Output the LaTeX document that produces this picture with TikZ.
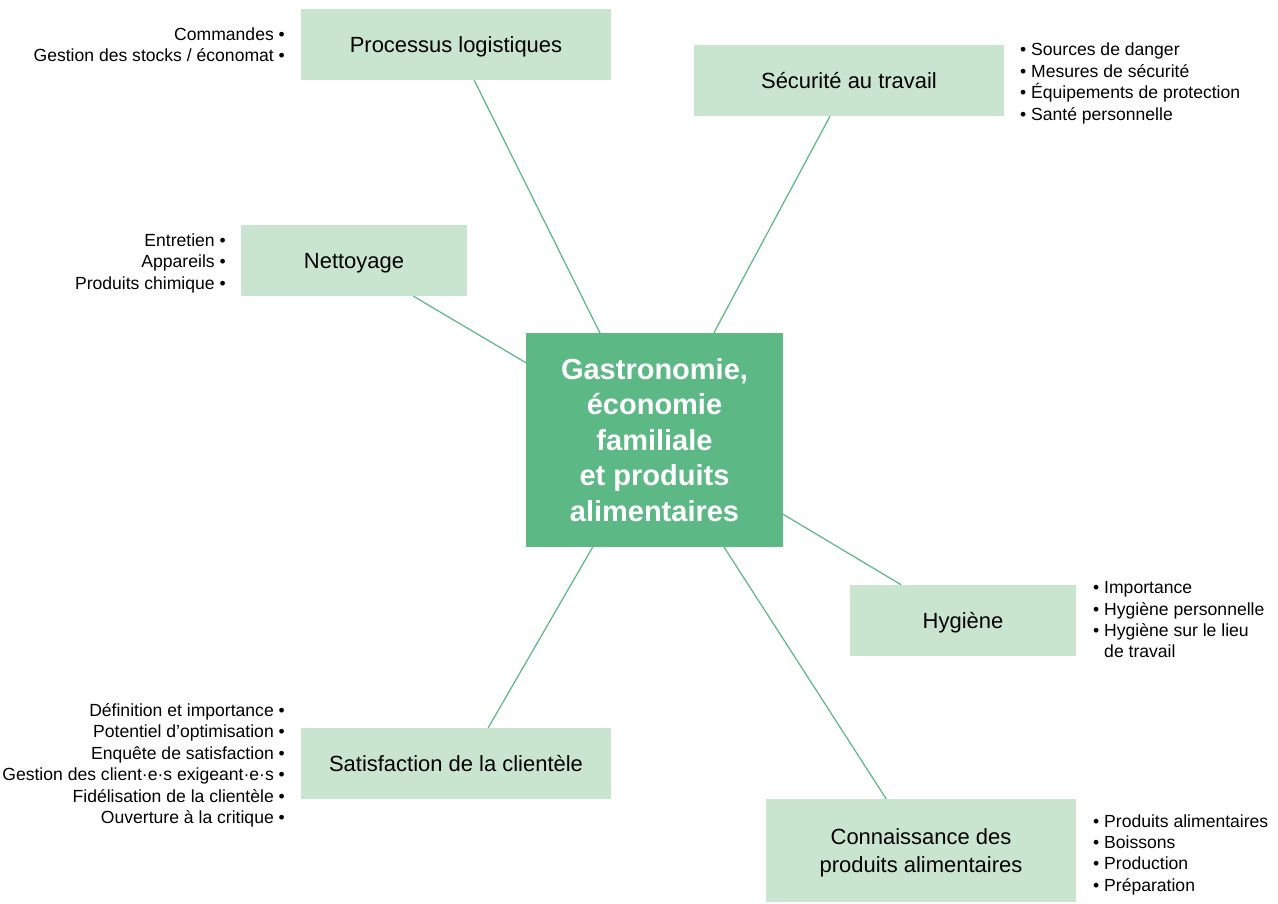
\documentclass[tikz,border=0pt]{standalone}
\usepackage{fontspec}
\setmainfont{Liberation Sans}
\usepackage{tikz}
\usetikzlibrary{positioning}
\usepackage{xcolor}

\definecolor{boxgreen}{HTML}{C9E4CF}
\definecolor{maingreen}{HTML}{5CB985}

\tikzset{
    topic/.style={fill=boxgreen, inner sep=0pt, outer sep=0pt, align=center, text depth=0pt,
        minimum height=1.43cm, font=\fontsize{12.5}{16}\selectfont},
    hub/.style={fill=maingreen, text=white, inner sep=0pt, outer sep=0pt, align=center,
        minimum width=5.14cm, minimum height=4.28cm, font=\fontsize{16.5}{20.2}\selectfont\bfseries},
    points/.style={inner sep=0pt, text depth=0pt, font=\fontsize{10}{12.2}\selectfont},
    link/.style={draw=maingreen, line width=0.7pt}
}

\begin{document}
\begin{tikzpicture}[x=0.02cm, y=-0.02cm]
    \useasboundingbox (0,0) rectangle (1278,903);

    \node (hub) [hub] at (654.5,440) {Gastronomie,\\économie\\familiale\\et produits\\alimentaires};

    \node (logistique) [topic, minimum width=6.2cm] at (456,44.5) {Processus logistiques};
    \node (securite) [topic, minimum width=6.2cm] at (849,80.5) {Sécurité au travail};
    \node (nettoyage) [topic, minimum width=4.52cm] at (354,260.5) {Nettoyage};
    \node (hygiene) [topic, minimum width=4.52cm] at (963,620.5) {Hygiène};
    \node (satisfaction) [topic, minimum width=6.2cm] at (456,763.5) {Satisfaction de la clientèle};
    \node (connaissance) [topic, minimum width=6.2cm, minimum height=2.06cm] at (921,850.5) {Connaissance des\\produits alimentaires};

    % lists
    \node (logistique_pts) [points, align=right, left=9pt of logistique] {Commandes •\\Gestion des stocks / économat •};
    \node (securite_pts) [points, align=left, right=9pt of securite, yshift=-0.6pt] {• Sources de danger\\• Mesures de sécurité\\• Équipements de protection\\• Santé personnelle};
    \node (nettoyage_pts) [points, align=right, left=8.5pt of nettoyage, yshift=-0.5pt] {Entretien •\\Appareils •\\Produits chimique •};
    \node (hygiene_pts) [points, align=left, anchor=north west] at ([shift={(9.6pt,2pt)}]hygiene.north east) {• Importance\\• Hygiène personnelle\\• Hygiène sur le lieu\\\phantom{• }de travail};
    \node (satisfaction_pts) [points, align=right, left=9pt of satisfaction] {Définition et importance •\\Potentiel d’optimisation •\\Enquête de satisfaction •\\Gestion des client·e·s exigeant·e·s •\\Fidélisation de la clientèle •\\Ouverture à la critique •};
    \node (connaissance_pts) [points, align=left, right=9.6pt of connaissance, yshift=-1.3pt] {• Produits alimentaires\\• Boissons\\• Production\\• Préparation};

    % connectors
    \draw[link] (hub.117) -- (logistique.-63.7);
    \draw[link] (hub.61.7) -- (securite.-118.2);
    \draw[link] (hub.149.1) -- (nettoyage.-31.5);
    \draw[link] (hub.-30.9) -- (hygiene.150.2);
    \draw[link] (hub.-120.7) -- (satisfaction.48);
    \draw[link] (hub.-57.4) -- (connaissance.124.2);
\end{tikzpicture}
\end{document}
